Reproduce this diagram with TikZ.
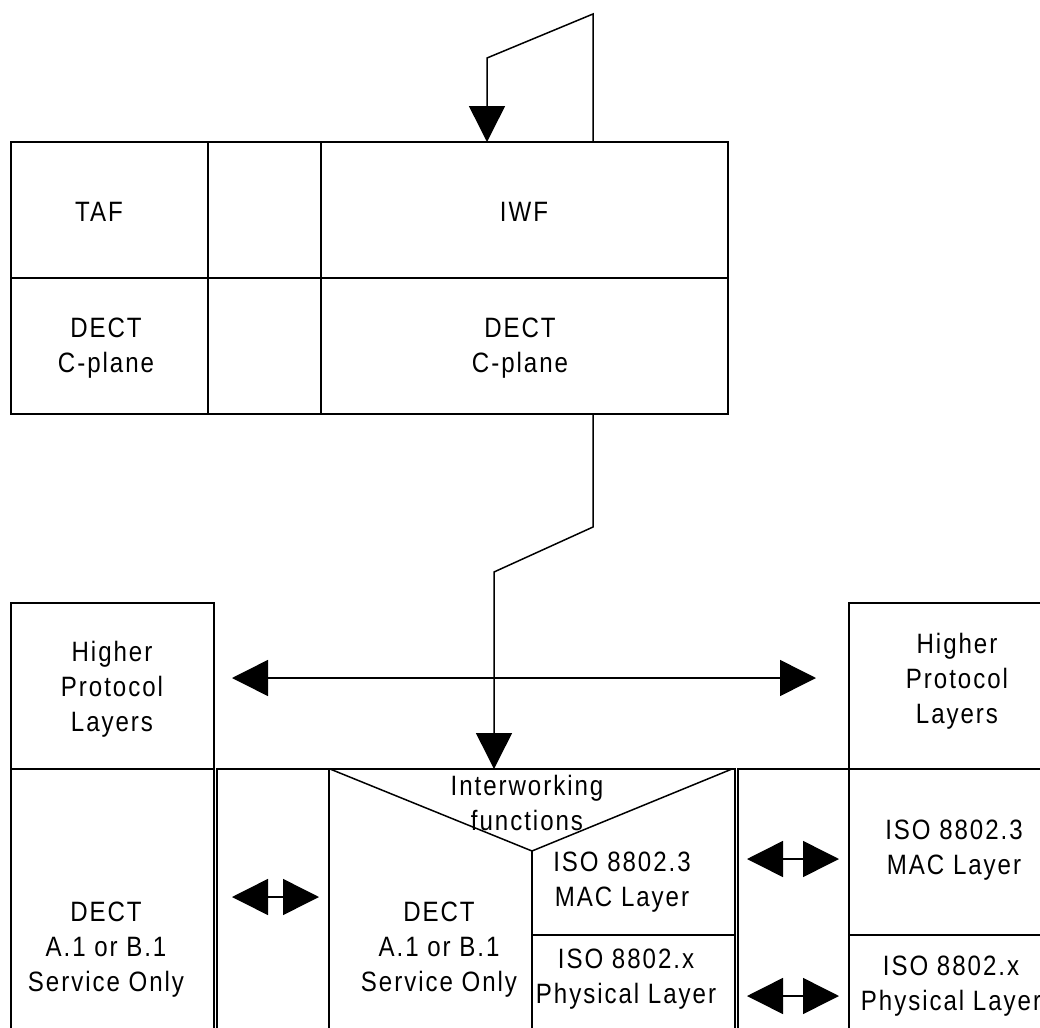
\documentclass[tikz,border=0pt]{standalone}
\usepackage{fontspec}
\setmainfont{Liberation Sans}[FakeStretch=0.86,LetterSpace=7]
\usetikzlibrary{arrows.meta}

\tikzset{
  box/.style={line width=1pt},
  link/.style={line width=0.75pt},
  head/.style={-{Triangle[length=18pt,width=18pt]}},
  heads/.style={{Triangle[length=18pt,width=18pt]}-{Triangle[length=18pt,width=18pt]}},
  label/.style={align=center, inner sep=0pt}
}

\begin{document}
\begin{tikzpicture}[x=0.5pt,y=-0.5pt,font=\fontsize{14}{17.5}\selectfont]
    \useasboundingbox (0,0) rectangle (1040,1028);
    \clip (0,0) rectangle (1040,1028);

    % Coordinates
    \coordinate (iwfOut) at (593,142);
    \coordinate (loopTop) at (593,14);
    \coordinate (loopBend) at (487,58);
    \coordinate (iwfIn) at (487,142);
    \coordinate (cplaneOut) at (593,414);
    \coordinate (linkBendA) at (593,527);
    \coordinate (linkBendB) at (494,572);
    \coordinate (iwIn) at (494,769);
    \coordinate (hplL) at (232,678);
    \coordinate (hplR) at (816,678);
    \coordinate (dectL) at (232,897);
    \coordinate (dectR) at (319,897);
    \coordinate (macL) at (747,859);
    \coordinate (macR) at (839,859);
    \coordinate (phyL) at (747,996);
    \coordinate (phyR) at (839,996);
    \coordinate (vLeft) at (330,769);
    \coordinate (vTip) at (532,851);
    \coordinate (vRight) at (732,769);

    % Drawing: upper stack
    \draw[box] (11,142) rectangle (728,414);
    \draw[box] (208,142) -- (208,414);
    \draw[box] (321,142) -- (321,414);
    \draw[box] (11,278) -- (728,278);

    % Drawing: lower stacks
    \draw[box] (11,603) rectangle (214,769);
    \draw[box] (11,769) rectangle (214,1040);
    \draw[box] (217,769) rectangle (329,1040);
    \draw[box] (329,769) rectangle (735,1040);
    \draw[box] (738,769) rectangle (849,1040);
    \draw[box] (849,603) rectangle (1050,769);
    \draw[box] (849,769) rectangle (1050,1040);
    \draw[box] (849,935) -- (1050,935);
    \draw[link] (vLeft) -- (vTip) -- (vRight);
    \draw[box] (vTip) -- (532,1040);
    \draw[box] (532,935) -- (735,935);

    % Connectors
    \draw[link, head] (iwfOut) -- (loopTop) -- (loopBend) -- (iwfIn);
    \draw[link, head] (cplaneOut) -- (linkBendA) -- (linkBendB) -- (iwIn);
    \draw[link, heads] (hplL) -- (hplR);
    \draw[link, heads] (dectL) -- (dectR);
    \draw[link, heads] (macL) -- (macR);
    \draw[link, heads] (phyL) -- (phyR);

    % Labels
    \node[label] (taf) at (99,212) {TAF};
    \node[label] (iwf) at (524,212) {IWF};
    \node[label] (cplaneL) at (106,348) {DECT\\C-plane};
    \node[label] (cplaneR) at (520,348) {DECT\\C-plane};
    \node[label] (hplBoxL) at (112,689) {Higher\\Protocol\\Layers};
    \node[label] (hplBoxR) at (957,681) {Higher\\Protocol\\Layers};
    \node[label] (dectBoxL) at (106,950) {DECT\\A.1 or B.1\\Service Only};
    \node[label] (dectBoxM) at (439,950) {DECT\\A.1 or B.1\\Service Only};
    \node[label] (iwfun) at (527,803) {Interworking\\functions};
    \node[label] (macM) at (622,882) {ISO 8802.3\\MAC Layer};
    \node[label] (phyM) at (626,979) {ISO 8802.x\\Physical Layer};
    \node[label] (macBoxR) at (954,850) {ISO 8802.3\\MAC Layer};
    \node[label] (phyBoxR) at (951,986) {ISO 8802.x\\Physical Layer};
\end{tikzpicture}
\end{document}
